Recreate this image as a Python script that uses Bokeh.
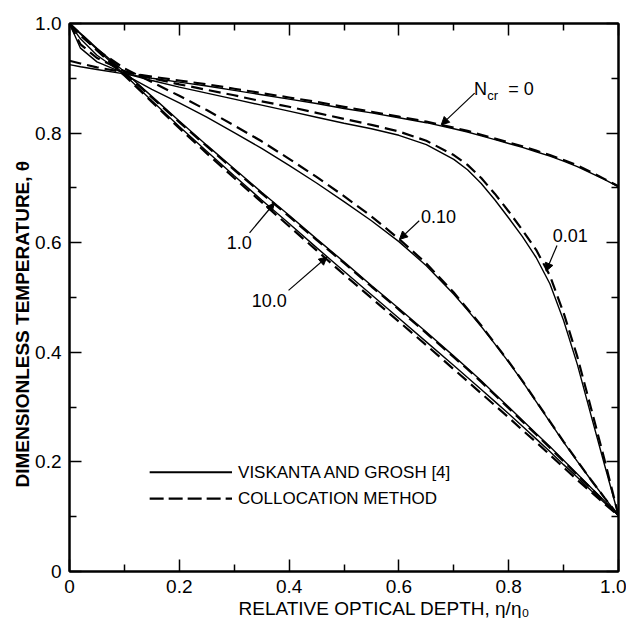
import math
from bokeh.plotting import figure
from bokeh.models import Range1d, FixedTicker, LinearAxis, Label, Arrow, NormalHead, Title
from bokeh.embed import file_html
from bokeh.resources import INLINE

# ---------------- data ----------------
depth = [0, 0.02, 0.05, 0.1, 0.15, 0.2, 0.25, 0.3, 0.35, 0.4, 0.45, 0.5, 0.55, 0.6, 0.65,
         0.7, 0.725, 0.75, 0.775, 0.8, 0.825, 0.85, 0.875, 0.9, 0.925, 0.95, 0.975, 1.0]

# Viskanta and Grosh [4] (solid)
vg_n0   = [0.925, 0.921, 0.916, 0.908, 0.900, 0.893, 0.886, 0.878, 0.870, 0.862, 0.854, 0.845, 0.837, 0.828, 0.819,
           0.808, 0.802, 0.795, 0.788, 0.781, 0.774, 0.766, 0.758, 0.749, 0.739, 0.727, 0.715, 0.702]
vg_n001 = [1.0, 0.955, 0.930, 0.909, 0.896, 0.884, 0.873, 0.862, 0.851, 0.840, 0.829, 0.818, 0.808, 0.796, 0.779,
           0.752, 0.733, 0.708, 0.678, 0.645, 0.611, 0.573, 0.525, 0.458, 0.378, 0.285, 0.193, 0.102]
vg_n01  = [1.0, 0.972, 0.942, 0.907, 0.880, 0.855, 0.829, 0.801, 0.772, 0.741, 0.709, 0.675, 0.640, 0.602, 0.558,
           0.506, 0.477, 0.447, 0.415, 0.382, 0.347, 0.310, 0.273, 0.236, 0.201, 0.167, 0.134, 0.102]
vg_n1   = [1.0, 0.982, 0.955, 0.912, 0.867, 0.822, 0.778, 0.735, 0.692, 0.650, 0.607, 0.565, 0.522, 0.480, 0.437,
           0.393, 0.371, 0.348, 0.324, 0.300, 0.276, 0.252, 0.228, 0.203, 0.178, 0.153, 0.128, 0.102]
vg_n10  = [1.0, 0.981, 0.953, 0.907, 0.859, 0.812, 0.767, 0.722, 0.678, 0.635, 0.591, 0.548, 0.505, 0.462, 0.419,
           0.376, 0.354, 0.332, 0.310, 0.288, 0.265, 0.242, 0.219, 0.195, 0.172, 0.148, 0.125, 0.102]

# Collocation method (dashed)
col_n0   = [0.932, 0.927, 0.920, 0.911, 0.903, 0.896, 0.889, 0.881, 0.873, 0.865, 0.857, 0.848, 0.839, 0.830, 0.821,
            0.810, 0.804, 0.797, 0.790, 0.783, 0.776, 0.768, 0.760, 0.751, 0.741, 0.729, 0.716, 0.703]
col_n001 = [1.0, 0.962, 0.937, 0.913, 0.900, 0.889, 0.879, 0.869, 0.858, 0.848, 0.837, 0.826, 0.815, 0.803, 0.786,
            0.760, 0.742, 0.718, 0.689, 0.657, 0.623, 0.587, 0.540, 0.472, 0.392, 0.298, 0.202, 0.102]
col_n01  = [1.0, 0.978, 0.952, 0.918, 0.893, 0.868, 0.842, 0.814, 0.785, 0.753, 0.720, 0.685, 0.648, 0.607, 0.562,
            0.509, 0.479, 0.449, 0.416, 0.383, 0.348, 0.311, 0.274, 0.237, 0.202, 0.167, 0.134, 0.102]
col_n1   = [1.0, 0.981, 0.953, 0.910, 0.865, 0.820, 0.776, 0.733, 0.690, 0.648, 0.605, 0.563, 0.520, 0.478, 0.435,
            0.391, 0.369, 0.346, 0.322, 0.298, 0.274, 0.250, 0.226, 0.201, 0.176, 0.152, 0.127, 0.102]
col_n10  = [1.0, 0.980, 0.951, 0.905, 0.857, 0.809, 0.763, 0.718, 0.674, 0.630, 0.586, 0.542, 0.499, 0.456, 0.413,
            0.369, 0.347, 0.325, 0.303, 0.281, 0.258, 0.236, 0.213, 0.190, 0.167, 0.145, 0.123, 0.102]

vg_series = [vg_n0, vg_n001, vg_n01, vg_n1, vg_n10]
col_series = [col_n0, col_n001, col_n01, col_n1, col_n10]

xticks = [0, 0.2, 0.4, 0.6, 0.8, 1.0]
xtick_labels = ["0", "0.2", "0.4", "0.6", "0.8", "1.0"]
yticks = [0, 0.2, 0.4, 0.6, 0.8, 1.0]
ytick_labels = ["0", "0.2", "0.4", "0.6", "0.8", "1.0"]
minor_ticks = [0.1, 0.3, 0.5, 0.7, 0.9]

x_title = "RELATIVE OPTICAL DEPTH, \u03b7/\u03b7\u2080"
y_title = "DIMENSIONLESS TEMPERATURE, \u03b8"
legend_labels = ["VISKANTA AND GROSH [4]", "COLLOCATION METHOD"]
curve_labels = ["1.0", "10.0", "0.10", "0.01"]

FONT = "Liberation Sans"

# ---------------- figure ----------------
p = figure(frame_width=549, frame_height=548,
           x_range=Range1d(0, 1), y_range=Range1d(0, 1),
           output_backend="svg", toolbar_location=None,
           min_border_left=69, min_border_right=8, min_border_top=23, min_border_bottom=42,
           background_fill_color="white", border_fill_color="white")
p.grid.visible = False
p.outline_line_color = "black"
p.outline_line_width = 2

def style_axis(ax, ticks, labels, show_labels):
    ax.ticker = FixedTicker(ticks=ticks, minor_ticks=minor_ticks)
    ax.major_tick_in = 12
    ax.major_tick_out = 0
    ax.minor_tick_in = 7
    ax.minor_tick_out = 0
    ax.major_tick_line_color = "black"
    ax.minor_tick_line_color = "black"
    ax.major_tick_line_width = 1.5
    ax.minor_tick_line_width = 1.5
    ax.axis_line_color = "black"
    ax.axis_line_width = 2
    if show_labels:
        ax.major_label_overrides = {t: l for t, l in zip(ticks, labels)}
        ax.major_label_text_font = FONT
        ax.major_label_text_font_size = "19px"
        ax.major_label_text_color = "black"
    else:
        ax.major_label_overrides = {t: "" for t in ticks}
        ax.major_label_text_font_size = "0px"
        ax.major_label_standoff = 0

style_axis(p.xaxis[0], xticks, xtick_labels, True)
style_axis(p.yaxis[0], yticks, ytick_labels, True)
p.xaxis[0].major_label_standoff = 8
p.yaxis[0].major_label_standoff = 8

top = LinearAxis()
style_axis(top, xticks, xtick_labels, False)
p.add_layout(top, "above")
right = LinearAxis()
style_axis(right, yticks, ytick_labels, False)
p.add_layout(right, "right")

# ---------------- axis titles ----------------
xt = Title(text=x_title, align="left", offset=169, standoff=0,
           text_font=FONT, text_font_size="19px", text_font_style="normal", text_color="black")
p.add_layout(xt, "below")
yt = Title(text=y_title, align="left", offset=84, standoff=0,
           text_font=FONT, text_font_size="19px", text_font_style="bold", text_color="black")
p.add_layout(yt, "left")

# ---------------- curves ----------------
for ys in vg_series:
    p.line(depth, ys, line_color="black", line_width=1.4)
for ys in col_series:
    p.line(depth, ys, line_color="black", line_width=2.2, line_dash="12 6")

# ---------------- legend (drawn) ----------------
p.line([0.146, 0.296], [0.181, 0.181], line_color="black", line_width=2)
p.line([0.146, 0.296], [0.133, 0.133], line_color="black", line_width=2.2, line_dash="14 5")
for txt, yy in zip(legend_labels, [0.181, 0.133]):
    p.add_layout(Label(x=0.307, y=yy, text=txt, text_align="left", text_baseline="middle",
                       text_font=FONT, text_font_size="17px", text_color="black"))

# ---------------- curve labels and arrows ----------------
label_pos = [(0.309, 0.600), (0.364, 0.494), (0.672, 0.647), (0.912, 0.613)]
for txt, (lx, ly) in zip(curve_labels, label_pos):
    p.add_layout(Label(x=lx, y=ly, text=txt, text_align="center", text_baseline="middle",
                       text_font=FONT, text_font_size="18px", text_color="black"))

# N_cr = 0
p.add_layout(Label(x=0.737, y=0.880, text="N", text_align="left", text_baseline="middle",
                   text_font=FONT, text_font_size="18px", text_color="black"))
p.add_layout(Label(x=0.761, y=0.868, text="cr", text_align="left", text_baseline="middle",
                   text_font=FONT, text_font_size="13px", text_color="black"))
p.add_layout(Label(x=0.799, y=0.880, text="= 0", text_align="left", text_baseline="middle",
                   text_font=FONT, text_font_size="18px", text_color="black"))

arrows = [((0.738, 0.873), (0.677, 0.815)),
          ((0.637, 0.640), (0.601, 0.606)),
          ((0.888, 0.595), (0.868, 0.548)),
          ((0.328, 0.618), (0.373, 0.672)),
          ((0.399, 0.513), (0.469, 0.574))]
for (x0, y0), (x1, y1) in arrows:
    p.add_layout(Arrow(end=NormalHead(size=8, fill_color="black", line_color="black", line_width=1),
                       x_start=x0, y_start=y0, x_end=x1, y_end=y1,
                       line_color="black", line_width=1.2))

open("out.html", "w").write(file_html(p, INLINE))
